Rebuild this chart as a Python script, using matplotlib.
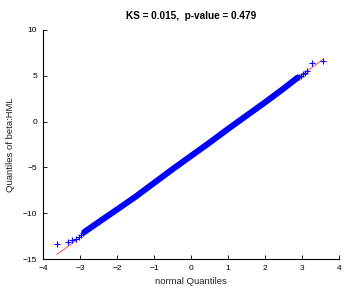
import numpy as np
import matplotlib
matplotlib.use("Agg")
import matplotlib.pyplot as plt

plt.rcParams['font.family'] = ['Liberation Sans', 'DejaVu Sans']

# centre of the dense body of the Q-Q cloud (normal quantile, sample quantile)
body_x = [-2.88, -2.65, -2.0, -1.5, -1.0, -0.5, 0.0, 0.5, 1.0, 1.5, 2.0, 2.5, 2.88]
body_y = [-12.05, -11.4, -9.6, -8.2, -6.7, -5.2, -3.75, -2.3, -0.8, 0.65, 2.1, 3.6, 4.8]

# sparse tail points drawn as single markers
tail_x = [-3.62, -3.32, -3.2, -3.1, -3.03, -2.97, -2.92, -2.75, -2.6,
          2.7, 2.8, 2.92, 2.97, 3.03, 3.08, 3.14, 3.27, 3.57]
tail_y = [-13.3, -13.1, -12.95, -12.8, -12.6, -12.4, -12.2, -11.6, -11.2,
          4.3, 4.6, 4.85, 4.95, 5.15, 5.3, 5.5, 6.4, 6.6]

# reference line
ref_x = [-3.62, 3.57]
ref_y = [-14.5, 6.8]

title = "KS = 0.015,  p-value = 0.479"

fig = plt.figure(figsize=(3.57, 3.02), dpi=100)
ax = fig.add_axes([0.120, 0.142, 0.830, 0.759])

ax.plot(ref_x, ref_y, color='#ff5050', lw=0.7, zorder=1)
ax.plot(body_x, body_y, color='#0000ff', lw=4.4, solid_capstyle='round', zorder=2)
ax.plot(tail_x, tail_y, ls='none', marker='+', color='#0000ff',
        markersize=5, markeredgewidth=0.8, zorder=3)

ax.set_xlim(-4, 4)
ax.set_ylim(-15, 10)
ax.set_xticks(np.arange(-4, 5, 1))
ax.set_yticks(np.arange(-15, 11, 5))
ax.spines['top'].set_visible(False)
ax.spines['right'].set_visible(False)
ax.spines['left'].set_linewidth(0.8)
ax.spines['bottom'].set_linewidth(0.8)
ax.tick_params(direction='in', length=3, width=0.6, labelsize=6, pad=4)

ax.set_xlabel('normal Quantiles', fontsize=6.8, color='#222222', labelpad=4)
ax.set_ylabel('Quantiles of beta:HML', fontsize=6.8, color='#222222', labelpad=6)
ax.set_title(title, fontsize=7.2, fontweight='bold', pad=8)

fig.savefig('out.png', dpi=100)
